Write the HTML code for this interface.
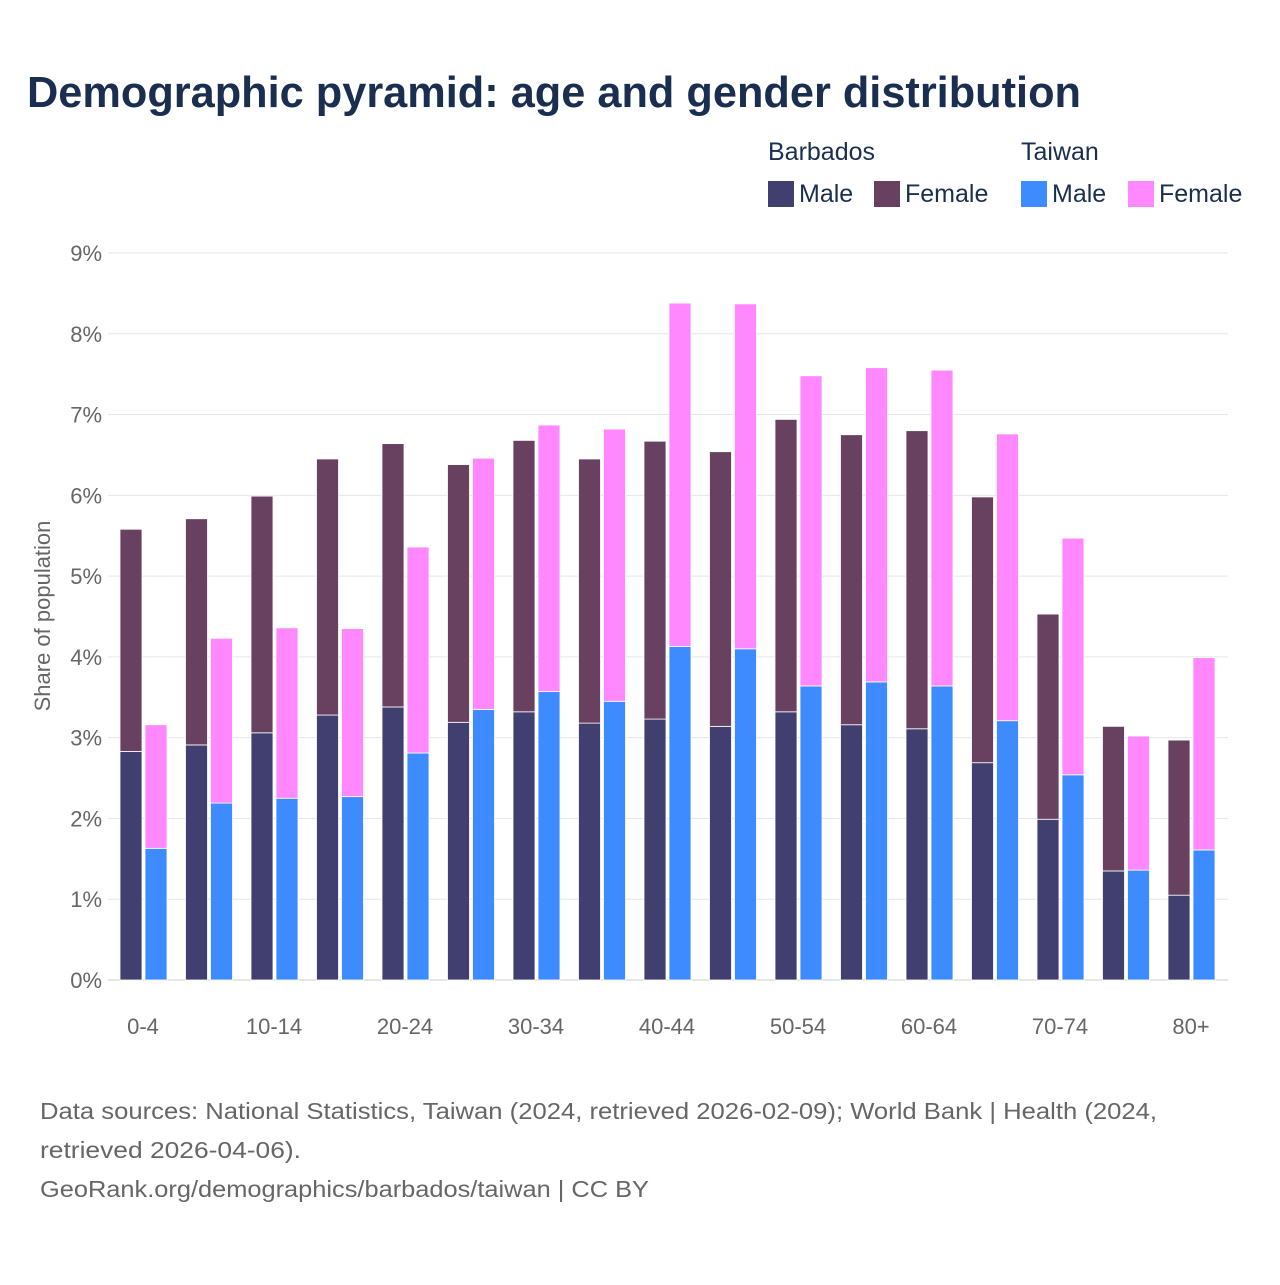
<!DOCTYPE html>
<html><head><meta charset="utf-8"><style>
body{margin:0;background:#fff;font-family:"Liberation Sans",sans-serif;}
svg text{font-family:"Liberation Sans",sans-serif;}
</style></head><body>
<svg id="chart" width="1280" height="1280" viewBox="0 0 1280 1280" xmlns="http://www.w3.org/2000/svg">
<rect width="1280" height="1280" fill="#fff"/>
<text x="27" y="107" font-size="44" font-weight="bold" fill="#1a2e4f" textLength="1054" lengthAdjust="spacingAndGlyphs">Demographic pyramid: age and gender distribution</text>
<g font-size="25" fill="#1a2e4f">
<text x="768" y="160">Barbados</text>
<text x="1021" y="160">Taiwan</text>
<g><rect x="768" y="181" width="26" height="26" fill="#413f6f"/><text x="799" y="202">Male</text></g>
<g><rect x="874" y="181" width="26" height="26" fill="#684060"/><text x="905" y="202">Female</text></g>
<g><rect x="1021" y="181" width="26" height="26" fill="#3d8bff"/><text x="1052" y="202">Male</text></g>
<g><rect x="1128" y="181" width="26" height="26" fill="#ff88ff"/><text x="1159" y="202">Female</text></g>
</g>
<text transform="translate(50,616) rotate(-90)" text-anchor="middle" font-size="22" fill="#666">Share of population</text>
<g id="grid"></g><g id="bars"></g><g id="xlabels"></g>
<g font-size="23" fill="#666">
<text x="40" y="1119" textLength="1117" lengthAdjust="spacingAndGlyphs">Data sources: National Statistics, Taiwan (2024, retrieved 2026-02-09); World Bank | Health (2024,</text>
<text x="40" y="1158" textLength="261" lengthAdjust="spacingAndGlyphs">retrieved 2026-04-06).</text>
<text x="40" y="1197" textLength="609" lengthAdjust="spacingAndGlyphs">GeoRank.org/demographics/barbados/taiwan | CC BY</text>
</g>
</svg>
<script>
const categories=["0-4","5-9","10-14","15-19","20-24","25-29","30-34","35-39","40-44","45-49","50-54","55-59","60-64","65-69","70-74","75-79","80+"];
const barbadosMale=[2.83,2.91,3.06,3.28,3.38,3.19,3.32,3.18,3.23,3.14,3.32,3.16,3.11,2.69,1.99,1.35,1.05];
const barbadosFemale=[2.75,2.80,2.93,3.17,3.26,3.19,3.36,3.27,3.44,3.40,3.62,3.59,3.69,3.29,2.54,1.79,1.92];
const taiwanMale=[1.63,2.19,2.25,2.27,2.81,3.35,3.57,3.45,4.13,4.10,3.64,3.69,3.64,3.21,2.54,1.36,1.61];
const taiwanFemale=[1.53,2.04,2.11,2.08,2.55,3.11,3.30,3.37,4.25,4.27,3.84,3.89,3.91,3.55,2.93,1.66,2.38];
const yTicks=[0,1,2,3,4,5,6,7,8,9];
const NS="http://www.w3.org/2000/svg";
function y(v){return 980-v*80.78;}
function xc(i){return 143+i*65.5;}
function mk(t,a,p){const e=document.createElementNS(NS,t);for(const k in a)e.setAttribute(k,a[k]);p.appendChild(e);return e;}
const grid=document.getElementById('grid'),bars=document.getElementById('bars'),xl=document.getElementById('xlabels');
yTicks.forEach(t=>{
 const l=mk('line',{x1:108,x2:1228,y1:y(t),y2:y(t),stroke:t===0?'#ccc':'#e6e6e6','stroke-width':1},grid);
 
 
 const tx=mk('text',{x:102,y:y(t)+8,'text-anchor':'end','font-size':22,fill:'#666'},grid);
 tx.textContent=t+'%';
 
 
});
function bar(x,v0,v1,fill){
 return mk('rect',{x:x,y:y(v1),width:22,height:y(v0)-y(v1),fill:fill,stroke:'#fff','stroke-width':0.8},bars);
}
categories.forEach((c,i)=>{
 const c0=xc(i);
 let r=bar(c0-23,0,barbadosMale[i],'#413f6f');
 
 
 r=bar(c0-23,barbadosMale[i],barbadosMale[i]+barbadosFemale[i],'#684060');
 
 
 r=bar(c0+2,0,taiwanMale[i],'#3d8bff');
 
 
 r=bar(c0+2,taiwanMale[i],taiwanMale[i]+taiwanFemale[i],'#ff88ff');
 
 
 if(i%2===0){
  const t=mk('text',{x:c0,y:1034,'text-anchor':'middle','font-size':22,fill:'#666'},xl);
  t.textContent=c;
  
  
 }
});
</script>
</body></html>
